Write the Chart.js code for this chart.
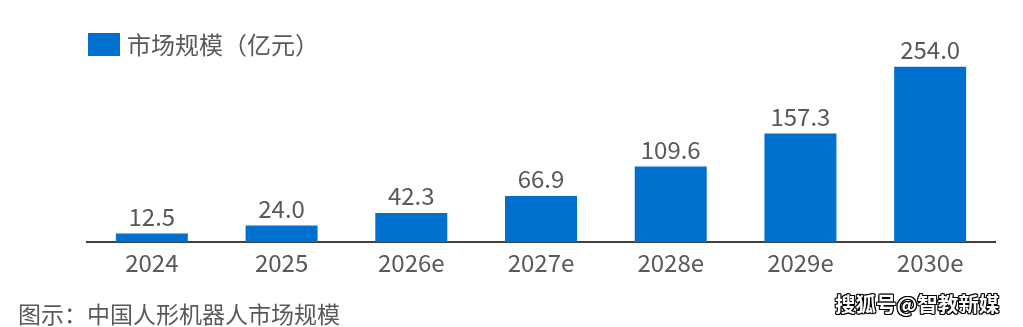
<!DOCTYPE html>
<html>
<head>
<meta charset="utf-8">
<script src="https://cdn.jsdelivr.net/npm/chart.js@4.4.1/dist/chart.umd.min.js"></script>
<style>
  html, body { margin: 0; padding: 0; background: #fff; }
  #wrap { position: relative; width: 1023px; height: 327px; overflow: hidden; }
  #c { position: absolute; left: 0; top: 0; }
  #src { position: absolute; left: 18px; top: 299px; font: 23px "Noto Sans CJK SC", sans-serif; color: #595959; line-height: 28px; white-space: nowrap; }
  #wm { position: absolute; left: 835px; top: 291px; font: bold 20.5px "Noto Sans CJK SC", sans-serif; color: #fff; line-height: 24px; white-space: nowrap;
        text-shadow: 1px 1px 0 #000, -1px -1px 0 #000, 1px -1px 0 #000, -1px 1px 0 #000, 0 1px 0 #000, 1px 0 0 #000, 0 -1px 0 #000, -1px 0 0 #000; }
</style>
</head>
<body>
<div id="wrap">
  <canvas id="c" width="1023" height="327"></canvas>
  <div id="src">图示：中国人形机器人市场规模</div>
  <div id="wm">搜狐号@智教新媒</div>
</div>
<script>
const categories = ["2024", "2025", "2026e", "2027e", "2028e", "2029e", "2030e"];
const marketSize = [12.5, 24.0, 42.3, 66.9, 109.6, 157.3, 254.0];
const seriesLabel = "市场规模（亿元）";

const FONT = '"Noto Sans CJK SC", "Microsoft YaHei", sans-serif';
const TEXT = '#595959';
const BAR = '#0070CE';

const valueLabels = {
  id: 'valueLabels',
  afterDatasetsDraw(chart) {
    const ctx = chart.ctx;
    const meta = chart.getDatasetMeta(0);
    ctx.save();
    ctx.font = '24px ' + FONT;
    ctx.fillStyle = TEXT;
    ctx.textAlign = 'center';
    ctx.textBaseline = 'alphabetic';
    meta.data.forEach((bar, i) => {
      ctx.fillText(chart.data.datasets[0].data[i].toFixed(1), bar.x, bar.y - 8);
    });
    ctx.restore();
  }
};

const legendBox = {
  id: 'legendBox',
  afterDraw(chart) {
    const ctx = chart.ctx;
    ctx.save();
    ctx.fillStyle = BAR;
    ctx.fillRect(88, 33, 32, 23);
    ctx.font = '24px ' + FONT;
    ctx.fillStyle = TEXT;
    ctx.textAlign = 'left';
    ctx.textBaseline = 'middle';
    ctx.fillText(chart.data.datasets[0].label, 127, 45);
    ctx.restore();
  }
};

new Chart(document.getElementById('c'), {
  type: 'bar',
  data: {
    labels: categories,
    datasets: [{
      label: seriesLabel,
      data: marketSize,
      backgroundColor: BAR,
      borderWidth: 0,
      categoryPercentage: 1.0,
      barPercentage: 0.555
    }]
  },
  options: {
    responsive: false,
    animation: false,
    devicePixelRatio: 1,
    layout: { padding: { left: 87, right: 28, top: 35, bottom: 44 } },
    plugins: { legend: { display: false }, tooltip: { enabled: false } },
    scales: {
      x: {
        grid: { display: false, drawTicks: false },
        border: { display: true, color: '#404040', width: 2 },
        ticks: { color: TEXT, font: { family: FONT, size: 24 }, padding: 6 }
      },
      y: {
        display: false,
        min: 0,
        max: 300
      }
    }
  },
  plugins: [valueLabels, legendBox]
});
</script>
</body>
</html>
